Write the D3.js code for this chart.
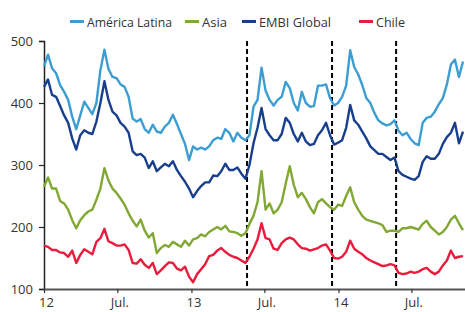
<!DOCTYPE html>
<html>
<head>
<meta charset="utf-8">
<script src="https://cdn.jsdelivr.net/npm/d3@7"></script>
<style>
  body { margin: 0; background: #fff; }
  svg text { font-family: "Open Sans", sans-serif; fill: #333; }
</style>
</head>
<body>
<svg id="chart" width="465" height="312"></svg>
<script>
const dates = [
  "2012-01-01","2012-01-11","2012-01-21","2012-01-31","2012-02-10","2012-02-20","2012-03-01","2012-03-11","2012-03-21","2012-03-31",
  "2012-04-10","2012-04-20","2012-04-30","2012-05-10","2012-05-20","2012-05-30","2012-06-09","2012-06-19","2012-06-29","2012-07-09",
  "2012-07-19","2012-07-29","2012-08-08","2012-08-18","2012-08-28","2012-09-07","2012-09-17","2012-09-27","2012-10-07","2012-10-17",
  "2012-10-27","2012-11-06","2012-11-16","2012-11-26","2012-12-06","2012-12-16","2012-12-26","2013-01-05","2013-01-15","2013-01-25",
  "2013-02-04","2013-02-14","2013-02-24","2013-03-06","2013-03-16","2013-03-26","2013-04-05","2013-04-15","2013-04-25","2013-05-05",
  "2013-05-15","2013-05-25","2013-06-04","2013-06-14","2013-06-24","2013-07-04","2013-07-14","2013-07-24","2013-08-03","2013-08-13",
  "2013-08-23","2013-09-02","2013-09-12","2013-09-22","2013-10-02","2013-10-12","2013-10-22","2013-11-01","2013-11-11","2013-11-21",
  "2013-12-01","2013-12-11","2013-12-21","2013-12-31","2014-01-10","2014-01-20","2014-01-30","2014-02-09","2014-02-19","2014-03-01",
  "2014-03-11","2014-03-21","2014-03-31","2014-04-10","2014-04-20","2014-04-30","2014-05-10","2014-05-20","2014-05-30","2014-06-09",
  "2014-06-19","2014-06-29","2014-07-09","2014-07-19","2014-07-29","2014-08-08","2014-08-18","2014-08-28","2014-09-07","2014-09-17",
  "2014-09-27","2014-10-07","2014-10-17","2014-10-27","2014-11-06"
];

const americaLatina = [
  459,478,456,448,429,418,405,378,358,380, 402,392,382,400,453,486,455,442,440,430,
  426,410,375,370,374,358,352,365,354,352, 362,368,381,366,350,334,308,330,325,328,
  325,330,340,344,342,358,352,338,352,344, 340,348,394,405,457,420,405,396,405,410,
  434,424,400,388,418,400,394,395,428,428, 430,408,396,400,410,428,485,458,446,429,
  408,400,384,372,367,364,366,372,355,348, 352,342,335,332,368,376,378,386,398,408,
  430,462,470,442,467
];

const asia = [
  265,280,262,262,242,238,228,211,198,211, 219,225,228,244,262,295,275,262,255,246,
  236,222,210,201,212,194,183,190,158,166, 171,168,176,172,168,178,170,180,182,188,
  185,192,196,200,196,202,193,192,190,186, 190,205,218,240,290,228,238,222,228,240,
  270,298,268,248,255,245,232,222,240,245, 238,232,228,236,234,250,264,240,228,218,
  212,210,208,206,203,192,194,194,192,198, 198,200,198,196,205,210,200,194,188,192,
  200,212,218,206,195
];

const embiGlobal = [
  426,438,413,410,395,380,368,343,325,348, 356,352,350,370,400,435,405,386,380,368,
  362,352,322,316,318,312,295,306,290,296, 302,298,306,292,282,273,262,248,258,266,
  272,272,283,282,290,302,292,292,296,286, 278,300,335,360,392,358,348,340,340,350,
  376,368,350,338,352,338,332,334,348,356, 368,348,333,336,340,360,397,372,365,354,
  343,330,324,318,318,313,308,312,290,284, 281,278,276,282,305,314,310,310,318,334,
  345,352,368,335,354
];

const chile = [
  170,168,163,163,159,158,152,162,142,155, 164,160,156,176,182,197,177,174,170,170,
  172,163,142,141,148,139,134,142,124,130, 137,143,142,133,130,136,120,111,124,132,
  140,153,155,162,166,160,155,152,150,146, 142,152,165,180,206,182,180,165,163,174,
  180,183,180,172,166,165,162,164,166,170, 172,162,150,149,152,160,178,165,160,156,
  150,146,143,140,137,138,140,138,126,124, 125,128,126,128,132,134,128,124,128,138,
  146,162,150,152,153
];

const seriesNames = ["América Latina", "Asia", "EMBI Global", "Chile"];
const seriesColors = ["#3c9dd3", "#80a832", "#183f8e", "#e81c3c"];
const eventDates = ["2013-05-19", "2013-12-16", "2014-05-24"];
const tickDates = ["2012-01-01", "2012-07-01", "2013-01-01", "2013-07-01", "2014-01-01", "2014-07-01"];
const tickLabels = ["12", "Jul.", "13", "Jul.", "14", "Jul."];
const yTicks = [100, 200, 300, 400, 500];

const parse = d3.timeParse("%Y-%m-%d");
const margin = { top: 41, right: 0, bottom: 23, left: 44 };
const width = 465 - margin.left - margin.right;
const height = 312 - margin.top - margin.bottom;

const svg = d3.select("#chart");
const g = svg.append("g").attr("transform", `translate(${margin.left},${margin.top})`);

const x = d3.scaleTime()
  .domain([parse("2012-01-01"), parse("2014-11-11")])
  .range([0, width]);
const y = d3.scaleLinear().domain([100, 500]).range([height, 0]);

const allSeries = [americaLatina, asia, embiGlobal, chile];
const dateObjs = dates.map(parse);

// y axis
const yAxis = g.append("g")
  .call(d3.axisLeft(y).tickValues(yTicks).tickSize(5).tickPadding(6));
yAxis.select(".domain").attr("stroke", "#222").attr("stroke-width", 1.5);
yAxis.selectAll(".tick line").attr("stroke", "#222").attr("stroke-width", 1.2);
yAxis.selectAll("text").attr("font-size", 13).attr("fill", "#333");

// x axis
const xAxis = g.append("g")
  .attr("transform", `translate(0,${height})`)
  .call(d3.axisBottom(x)
    .tickValues(tickDates.map(parse))
    .tickFormat((d, i) => tickLabels[i])
    .tickSizeInner(4).tickSizeOuter(0).tickPadding(5));
xAxis.select(".domain").attr("stroke", "#555").attr("stroke-width", 2);
xAxis.selectAll(".tick line").attr("stroke", "#333").attr("stroke-width", 1.2);
xAxis.selectAll("text").attr("font-size", 13).attr("fill", "#333").attr("dx", 2);

// event lines
g.selectAll(".event")
  .data(eventDates)
  .enter()
  .append("line")
  .attr("class", "event")
  .attr("x1", (d) => x(parse(d)))
  .attr("x2", (d) => x(parse(d)))
  .attr("y1", y(500))
  .attr("y2", height)
  .attr("stroke", "#000")
  .attr("stroke-width", 2)
  .attr("stroke-dasharray", "5,3");

const line = d3.line()
  .x((d, i) => x(dateObjs[i]))
  .y((d) => y(d));

g.selectAll(".series")
  .data(allSeries)
  .enter()
  .append("path")
  .attr("class", "series")
  .attr("fill", "none")
  .attr("stroke", (d, i) => seriesColors[i])
  .attr("stroke-width", 2.4)
  .attr("stroke-linejoin", "round")
  .attr("d", line);

// legend
const legendX = [70, 185, 242, 359];
const legendW = [85, 25, 72, 29];
const legend = svg.append("g");
seriesNames.forEach((name, i) => {
  legend.append("rect")
    .attr("x", legendX[i])
    .attr("y", 20)
    .attr("width", 14)
    .attr("height", 3)
    .attr("fill", seriesColors[i]);
  legend.append("text")
    .attr("x", legendX[i] + 17)
    .attr("y", 27)
    .attr("font-size", 13.5)
    .attr("textLength", legendW[i])
    .attr("lengthAdjust", "spacingAndGlyphs")
    .text(name);
});
</script>
</body>
</html>
